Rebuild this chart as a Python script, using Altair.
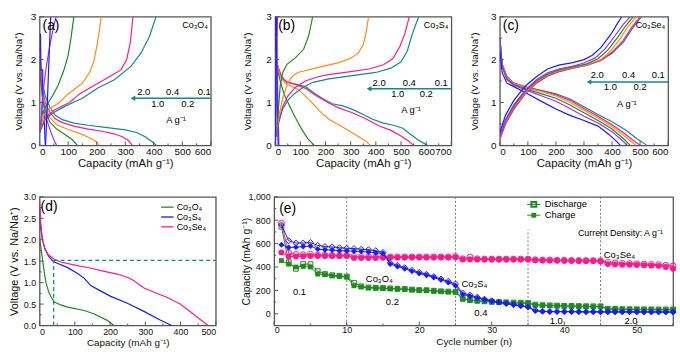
import altair as alt
import pandas as pd

FONT = "Liberation Sans"
FRAME = "#555555"
TEAL = "#14898b"
PINK = "#ff1a8c"
ORANGE = "#ff8c1a"
GREEN = "#1f8a1f"
PURPLE = "#9b30ff"
BLUE = "#1a1aff"
COLORS = {"teal": TEAL, "pink": PINK, "orange": ORANGE, "green": GREEN, "purple": PURPLE, "blue": BLUE}

# ---------------- Panel (a) Co3O4 : discharge / charge profiles (mAh g-1, V)
A_DIS = {
    "teal": ([0, 4, 10, 20, 35, 55, 80, 120, 170, 230, 300, 340, 370, 395, 410],
             [2.3, 1.8, 1.45, 1.15, 0.9, 0.7, 0.6, 0.52, 0.47, 0.42, 0.36, 0.3, 0.2, 0.08, 0]),
    "pink": ([0, 4, 10, 20, 35, 55, 80, 120, 170, 220, 260, 290, 310, 325],
             [2.3, 1.7, 1.3, 1.0, 0.78, 0.62, 0.53, 0.45, 0.38, 0.33, 0.27, 0.2, 0.12, 0]),
    "orange": ([0, 4, 10, 20, 35, 60, 100, 140, 175, 195, 210],
               [2.2, 1.6, 1.2, 0.9, 0.65, 0.48, 0.37, 0.28, 0.18, 0.1, 0]),
    "green": ([0, 4, 10, 20, 35, 60, 90, 115, 132],
              [2.1, 1.5, 1.1, 0.8, 0.55, 0.38, 0.25, 0.13, 0]),
    "purple": ([0, 5, 12, 25, 40, 52, 60],
               [2.2, 1.5, 1.0, 0.6, 0.3, 0.1, 0]),
    "blue": ([3, 5, 11, 11, 8, 11, 16, 18, 20],
             [2.6, 1.76, 1.76, 1.2, 0.8, 0.76, 0.76, 0.3, 0]),
}
A_CHG = {
    "teal": ([0, 20, 45, 80, 117, 150, 204, 262, 320, 355, 385, 408],
             [0.3, 0.6, 0.75, 0.88, 1.0, 1.1, 1.34, 1.53, 1.84, 2.15, 2.54, 3.0]),
    "pink": ([0, 20, 50, 105, 140, 186, 240, 285, 305, 318, 327],
             [0.3, 0.65, 0.82, 1.0, 1.2, 1.38, 1.58, 1.76, 2.0, 2.4, 3.0]),
    "orange": ([0, 15, 40, 70, 100, 130, 150, 175, 190, 203, 210, 216],
               [0.3, 0.7, 0.88, 1.0, 1.2, 1.35, 1.45, 1.7, 1.95, 2.4, 2.7, 3.0]),
    "green": ([0, 10, 25, 45, 65, 85, 100, 110, 120],
              [0.3, 0.75, 0.95, 1.15, 1.4, 1.75, 2.1, 2.5, 3.0]),
    "purple": ([2, 8, 15, 25, 38, 50, 58],
               [0.3, 0.9, 1.4, 1.9, 2.4, 2.8, 3.0]),
    "blue": ([21, 26, 30, 34, 39],
             [0, 0.8, 1.5, 2.2, 3.0]),
}
A_RATE_TEXT = ["2.0", "0.4", "0.1", "1.0", "0.2", "A g⁻¹"]
A_RATE_X = [365, 466, 577, 414, 519, 478]
A_RATE_Y = [1.24, 1.24, 1.24, 0.97, 0.97, 0.59]
A_ARROW = [321, 610, 1.1]

# ---------------- Panel (b) Co3S4
B_DIS = {
    "teal": ([0, 10, 25, 45, 80, 120, 160, 200, 227, 270, 307, 350, 387, 430, 470, 507, 540, 570, 605],
             [2.2, 1.85, 1.6, 1.48, 1.43, 1.37, 1.2, 1.05, 0.97, 0.92, 0.84, 0.72, 0.61, 0.52, 0.47, 0.4, 0.25, 0.12, 0]),
    "pink": ([0, 10, 25, 45, 80, 120, 160, 213, 250, 307, 360, 413, 460, 500, 530, 550],
             [2.2, 1.85, 1.6, 1.48, 1.42, 1.33, 1.17, 0.99, 0.88, 0.76, 0.62, 0.45, 0.35, 0.22, 0.1, 0]),
    "orange": ([0, 8, 20, 40, 93, 147, 180, 213, 273, 327, 360, 378],
               [2.2, 1.9, 1.6, 1.45, 1.3, 0.99, 0.78, 0.61, 0.41, 0.22, 0.1, 0]),
    "green": ([0, 5, 12, 20, 35, 55, 80, 105, 130, 155],
              [2.2, 1.9, 1.7, 1.5, 1.2, 0.95, 0.65, 0.38, 0.15, 0]),
    "purple": ([4, 8, 11, 15], [2.9, 2.0, 1.0, 0]),
    "blue": ([2, 5, 8, 12], [3.0, 2.0, 1.0, 0]),
}
B_CHG = {
    "teal": ([8, 15, 30, 50, 75, 110, 150, 213, 300, 400, 460, 500, 525, 545, 570],
             [0.3, 0.55, 0.85, 1.05, 1.2, 1.35, 1.47, 1.55, 1.62, 1.7, 1.8, 1.95, 2.2, 2.6, 3.0]),
    "pink": ([8, 15, 30, 50, 80, 120, 170, 213, 300, 373, 430, 467, 495, 515, 533],
             [0.35, 0.6, 0.9, 1.15, 1.35, 1.5, 1.6, 1.65, 1.72, 1.78, 1.88, 2.02, 2.3, 2.6, 3.0]),
    "orange": ([5, 15, 30, 50, 70, 90, 160, 253, 300, 330, 350, 362, 371],
               [0.3, 0.7, 1.1, 1.45, 1.62, 1.7, 1.8, 1.93, 2.03, 2.15, 2.35, 2.65, 3.0]),
    "green": ([5, 12, 20, 30, 47, 80, 113, 133, 149],
              [0.2, 0.8, 1.38, 1.7, 1.89, 2.04, 2.24, 2.55, 3.0]),
    "purple": ([2, 5, 7, 9], [0, 1.2, 2.2, 3.0]),
    "blue": ([0, 2, 4, 6], [0, 1.0, 2.0, 3.0]),
}
B_RATE_TEXT = ["2.0", "0.4", "0.1", "1.0", "0.2", "A g⁻¹"]
B_RATE_X = [413, 533, 660, 487, 600, 540]
B_RATE_Y = [1.46, 1.46, 1.46, 1.19, 1.19, 0.82]
B_ARROW = [367, 700, 1.32]

# ---------------- Panel (c) Co3Se4
C_DIS = {
    "teal": ([0, 8, 25, 50, 100, 150, 200, 250, 300, 350, 400, 450, 490, 525],
             [2.5, 1.9, 1.6, 1.45, 1.35, 1.28, 1.2, 1.08, 0.9, 0.72, 0.55, 0.35, 0.15, 0]),
    "pink": ([0, 8, 25, 50, 100, 150, 200, 250, 300, 350, 400, 440, 475, 500],
             [2.5, 1.9, 1.6, 1.45, 1.35, 1.27, 1.18, 1.05, 0.86, 0.68, 0.48, 0.3, 0.12, 0]),
    "orange": ([0, 8, 25, 50, 100, 150, 200, 250, 300, 350, 400, 440, 470, 485],
               [2.5, 1.88, 1.58, 1.44, 1.33, 1.25, 1.15, 1.0, 0.82, 0.64, 0.44, 0.24, 0.08, 0]),
    "green": ([0, 8, 25, 50, 100, 150, 200, 250, 300, 350, 400, 440, 465],
              [2.5, 1.85, 1.55, 1.42, 1.3, 1.2, 1.1, 0.94, 0.76, 0.58, 0.38, 0.16, 0]),
    "purple": ([0, 8, 25, 50, 100, 150, 200, 250, 300, 350, 400, 435, 455],
               [2.5, 1.83, 1.53, 1.4, 1.27, 1.15, 1.03, 0.86, 0.68, 0.52, 0.32, 0.12, 0]),
    "blue": ([0, 8, 25, 50, 100, 150, 200, 250, 300, 350, 390, 415, 430],
             [2.2, 1.7, 1.45, 1.37, 1.2, 1.02, 0.85, 0.7, 0.58, 0.45, 0.25, 0.1, 0]),
}
C_CHG = {
    "teal": ([0, 20, 50, 90, 130, 170, 210, 260, 310, 360, 400, 440, 475, 505],
             [0.15, 0.5, 0.85, 1.2, 1.45, 1.62, 1.72, 1.8, 1.87, 1.98, 2.15, 2.4, 2.75, 3.0]),
    "pink": ([0, 20, 50, 90, 130, 170, 210, 260, 310, 360, 400, 440, 470, 500],
             [0.15, 0.5, 0.85, 1.2, 1.45, 1.62, 1.72, 1.8, 1.87, 1.98, 2.17, 2.45, 2.75, 3.0]),
    "orange": ([0, 20, 50, 90, 130, 170, 210, 260, 310, 360, 395, 430, 460, 488],
               [0.18, 0.55, 0.9, 1.23, 1.48, 1.64, 1.74, 1.81, 1.88, 2.0, 2.2, 2.5, 2.8, 3.0]),
    "green": ([0, 20, 50, 90, 130, 170, 210, 260, 310, 350, 385, 420, 450, 476],
              [0.2, 0.58, 0.92, 1.26, 1.5, 1.66, 1.76, 1.83, 1.9, 2.02, 2.22, 2.52, 2.8, 3.0]),
    "purple": ([0, 20, 50, 90, 130, 170, 210, 260, 300, 340, 375, 410, 440, 465],
               [0.22, 0.6, 0.95, 1.28, 1.53, 1.69, 1.78, 1.85, 1.92, 2.04, 2.25, 2.55, 2.82, 3.0]),
    "blue": ([0, 20, 50, 90, 130, 170, 210, 260, 300, 330, 360, 395, 420, 435],
             [0.3, 0.7, 1.05, 1.38, 1.6, 1.78, 1.87, 1.93, 2.0, 2.1, 2.28, 2.58, 2.85, 3.0]),
}
C_RATE_TEXT = ["2.0", "0.4", "0.1", "1.0", "0.2", "A g⁻¹"]
C_RATE_X = [347, 459, 565, 394, 500, 453]
C_RATE_Y = [1.64, 1.64, 1.64, 1.35, 1.35, 0.97]
C_ARROW = [312, 610, 1.48]

# ---------------- Panel (d) first discharge comparison
D_O4_CAP = [0, 4, 9, 14, 19, 26, 33, 42, 60, 80, 127, 155, 192, 211]
D_O4_V = [2.05, 1.8, 1.5, 1.2, 0.97, 0.78, 0.66, 0.55, 0.48, 0.43, 0.35, 0.27, 0.12, 0]
D_S4_CAP = [0, 3, 8, 15, 25, 38, 50, 80, 110, 127, 145, 170, 202, 249, 296, 342, 375]
D_S4_V = [2.75, 2.3, 2.0, 1.8, 1.62, 1.5, 1.45, 1.35, 1.2, 1.1, 0.93, 0.82, 0.68, 0.52, 0.33, 0.13, 0]
D_SE4_CAP = [0, 3, 8, 15, 25, 40, 60, 100, 150, 174, 220, 250, 267, 295, 330, 361, 399, 436, 478]
D_SE4_V = [2.9, 2.4, 2.0, 1.78, 1.65, 1.55, 1.48, 1.41, 1.33, 1.28, 1.2, 1.12, 1.05, 0.88, 0.76, 0.66, 0.5, 0.27, 0]
D_NAMES = ["Co₃O₄", "Co₃S₄", "Co₃Se₄"]
D_LEG_Y = [2.76, 2.53, 2.3]
D_GUIDE_CAP = 40
D_GUIDE_V = 1.52

# ---------------- Panel (e) rate capability (capacity mAh g-1 per cycle)
CYCLES = list(range(1, 56))
O4_CHG = [455, 425, 400, 405, 400, 340, 335, 325, 320, 315,
          240, 230, 222, 220, 218, 215, 212, 210, 205, 200,
          200, 195, 190, 188, 185, 125, 115, 110, 105, 100,
          98, 96, 94, 92, 90, 75, 72, 70, 68, 66,
          65, 64, 63, 62, 62, 40, 38, 38, 37, 37,
          36, 36, 35, 35, 35]
O4_DIS = [745, 440, 385, 425, 425, 365, 340, 330, 325, 318,
          265, 235, 225, 222, 220, 217, 214, 212, 207, 203,
          202, 197, 193, 190, 188, 130, 118, 112, 107, 103,
          100, 98, 96, 94, 92, 78, 74, 72, 70, 68,
          67, 66, 65, 64, 64, 43, 41, 40, 39, 39,
          38, 38, 37, 37, 37]
S4_CHG = [590, 567, 570, 575, 580, 553, 548, 545, 540, 538,
          535, 532, 528, 522, 515, 425, 405, 385, 365, 345,
          330, 310, 290, 268, 240, 165, 150, 135, 122, 108,
          96, 86, 76, 66, 56, 25, 20, 18, 18, 18,
          17, 17, 16, 16, 16, 15, 15, 15, 15, 15,
          15, 15, 15, 15, 15]
S4_DIS = [760, 625, 605, 605, 610, 585, 575, 572, 565, 560,
          558, 552, 548, 540, 525, 435, 415, 395, 372, 355,
          338, 318, 298, 278, 255, 178, 160, 142, 126, 112,
          100, 90, 80, 70, 60, 30, 22, 20, 20, 19,
          19, 18, 18, 18, 17, 17, 17, 17, 17, 17,
          16, 16, 16, 16, 16]
SE4_CHG = [525, 490, 490, 492, 494, 494, 495, 495, 495, 495,
           478, 478, 478, 478, 480, 482, 482, 482, 482, 482,
           482, 482, 482, 482, 484, 465, 465, 465, 465, 465,
           465, 465, 465, 465, 465, 458, 456, 455, 455, 454,
           453, 452, 452, 451, 450, 425, 422, 420, 420, 418,
           415, 412, 410, 400, 385]
SE4_DIS = [775, 520, 508, 505, 510, 502, 500, 500, 498, 500,
           490, 488, 488, 487, 487, 486, 486, 486, 486, 486,
           486, 486, 486, 486, 490, 470, 485, 470, 468, 468,
           468, 468, 468, 468, 468, 462, 460, 460, 458, 458,
           456, 456, 455, 455, 452, 440, 435, 432, 430, 428,
           425, 422, 420, 415, 410]
E_SWITCH = [10, 25, 35, 45]
E_SWITCH_TOP = [1000, 1000, 720, 1000]
E_TEXT = ["0.1", "0.2", "0.4", "1.0", "2.0", "Co₃O₄", "Co₃S₄", "Co₃Se₄"]
E_TEXT_X = [3.5, 16.3, 28.5, 38.9, 49.2, 14.5, 27.6, 47.6]
E_TEXT_Y = [187, 102, 11, -60, -60, 300, 258, 505]

H = 130


class Frame:
    """Shared scales and axes of one panel (every layer repeats the same axis)."""

    def __init__(self, xsc, ysc, xax, yax):
        self.xsc, self.ysc, self.xax, self.yax = xsc, ysc, xax, yax

    def X(self, field):
        return alt.X(field, scale=self.xsc, axis=self.xax)

    def Y(self, field):
        return alt.Y(field, scale=self.ysc, axis=self.yax)


def line_frame(dis, chg):
    rows = []
    for kind, group in (("d", dis), ("c", chg)):
        for name, (caps, volts) in group.items():
            for i, (c, v) in enumerate(zip(caps, volts)):
                rows.append({"key": kind + name, "col": COLORS[name], "x": c, "y": v, "i": i})
    return pd.DataFrame(rows)


def inward_ticks(fr, xmaj, xmin, ymaj, ymin, h):
    layers = []
    for vals, ln in ((xmaj, 4), (xmin, 2)):
        layers.append(alt.Chart(pd.DataFrame({"x": vals})).mark_rule(color=FRAME, strokeWidth=1)
                      .encode(x=fr.X("x:Q"), y=alt.value(h), y2=alt.value(h - ln)))
    for vals, ln in ((ymaj, 4), (ymin, 2)):
        layers.append(alt.Chart(pd.DataFrame({"y": vals})).mark_rule(color=FRAME, strokeWidth=1)
                      .encode(y=fr.Y("y:Q"), x=alt.value(0), x2=alt.value(ln)))
    return layers


def spacers(left, top, right, bottom):
    out = []
    for px, py in ((left, top), (right, bottom)):
        out.append(alt.Chart(pd.DataFrame({"s": [0]})).mark_point(opacity=0, size=1, strokeWidth=0)
                   .encode(x=alt.value(px), y=alt.value(py)))
    return out


def tag(text, x, y, size, align="left", baseline="top"):
    return alt.Chart(pd.DataFrame({"t": [text]})).mark_text(
        font=FONT, fontSize=size, align=align, baseline=baseline, color="black"
    ).encode(text="t:N", x=alt.value(x), y=alt.value(y))


def data_texts(fr, xs, ys, texts, size, align="center"):
    df = pd.DataFrame({"x": xs, "y": ys, "t": texts})
    return alt.Chart(df).mark_text(font=FONT, fontSize=size, align=align, baseline="middle",
                                   color="black").encode(x=fr.X("x:Q"), y=fr.Y("y:Q"), text="t:N")


def profile_panel(label, compound, dis, chg, xmax, w, yext, arrow, rx, ry, rt, sp):
    fr = Frame(
        alt.Scale(domain=[0, xmax], nice=False, zero=False),
        alt.Scale(domain=[0, 3], nice=False, zero=False),
        alt.Axis(values=list(range(0, xmax + 1, 100)), title="Capacity (mAh g⁻¹)", labelFontSize=10,
                 titleFontSize=11.5, labelPadding=1, minExtent=12, maxExtent=12, titlePadding=0),
        alt.Axis(values=[0, 1, 2, 3], title="Voltage (V vs. Na/Na⁺)", labelFontSize=10, titleFontSize=10,
                 labelPadding=4, minExtent=yext, maxExtent=yext, titlePadding=4))
    lines = alt.Chart(line_frame(dis, chg)).mark_line(strokeWidth=1.2, clip=True).encode(
        x=fr.X("x:Q"), y=fr.Y("y:Q"),
        color=alt.Color("col:N", scale=None), detail="key:N", order="i:Q")
    ticks = inward_ticks(fr, list(range(0, xmax + 1, 100)), list(range(50, xmax, 100)),
                         [0, 1, 2, 3], [0.5, 1.5, 2.5], H)
    arr_line = alt.Chart(pd.DataFrame({"x": [arrow[0] + 8], "x2": [arrow[1]], "y": [arrow[2]]})).mark_rule(
        color=TEAL, strokeWidth=1.5, clip=True).encode(x=fr.X("x:Q"), x2="x2:Q", y=fr.Y("y:Q"))
    arr_head = alt.Chart(pd.DataFrame({"x": [arrow[0] + 6], "y": [arrow[2]]})).mark_point(
        shape="triangle-left", filled=True, size=30, color=TEAL, opacity=1).encode(x=fr.X("x:Q"), y=fr.Y("y:Q"))
    rates = data_texts(fr, rx, ry, rt, 9.5)
    layers = [lines, *ticks, arr_line, arr_head, rates,
              tag(label, 3, 2, 14), tag(compound, w - 3, 8, 9, align="right", baseline="middle"),
              *spacers(*sp)]
    return alt.layer(*layers).properties(width=w, height=H)


pa = profile_panel("(a)", "Co₃O₄", A_DIS, A_CHG, 600, 173, 12, A_ARROW, A_RATE_X, A_RATE_Y, A_RATE_TEXT,
                   (-38, -13, 173 + 12, H + 30))
pb = profile_panel("(b)", "Co₃S₄", B_DIS, B_CHG, 700, 178, 19, B_ARROW, B_RATE_X, B_RATE_Y, B_RATE_TEXT,
                   (-49, -13, 178 + 10, H + 30))
pc = profile_panel("(c)", "Co₃Se₄", C_DIS, C_CHG, 600, 170, 17, C_ARROW, C_RATE_X, C_RATE_Y, C_RATE_TEXT,
                   (-35, -13, 170 + 10, H + 30))

# ---------------- panel d
WD = 178
dfr = Frame(
    alt.Scale(domain=[0, 500], nice=False, zero=False),
    alt.Scale(domain=[0, 3], nice=False, zero=False),
    alt.Axis(values=[0, 100, 200, 300, 400, 500], title="Capacity (mAh g⁻¹)", labelFontSize=9,
             titleFontSize=10, labelPadding=2, minExtent=12, maxExtent=12, titlePadding=0),
    alt.Axis(values=[0, 0.5, 1, 1.5, 2, 2.5, 3], format=".1f", title="Voltage (V vs. Na/Na⁺)",
             labelFontSize=9, titleFontSize=11, labelPadding=4, minExtent=16, maxExtent=16, titlePadding=4))
d_rows = []
for name, caps, volts, col in ((D_NAMES[0], D_O4_CAP, D_O4_V, GREEN), (D_NAMES[1], D_S4_CAP, D_S4_V, BLUE),
                               (D_NAMES[2], D_SE4_CAP, D_SE4_V, PINK)):
    for i, (c, v) in enumerate(zip(caps, volts)):
        d_rows.append({"key": name, "col": col, "x": c, "y": v, "i": i})
d_lines = alt.Chart(pd.DataFrame(d_rows)).mark_line(strokeWidth=1.2, clip=True).encode(
    x=dfr.X("x:Q"), y=dfr.Y("y:Q"), color=alt.Color("col:N", scale=None), detail="key:N", order="i:Q")
d_guides = alt.Chart(pd.DataFrame({"x": [D_GUIDE_CAP, D_GUIDE_CAP], "x2": [500, D_GUIDE_CAP],
                                   "y": [D_GUIDE_V, 0], "y2": [D_GUIDE_V, D_GUIDE_V]})).mark_rule(
    color=TEAL, strokeWidth=1.3, strokeDash=[4, 3]).encode(x=dfr.X("x:Q"), x2="x2:Q", y=dfr.Y("y:Q"), y2="y2:Q")
d_leg_lines = alt.Chart(pd.DataFrame({"x": [345] * 3, "x2": [380] * 3, "y": D_LEG_Y,
                                      "col": [GREEN, BLUE, PINK]})).mark_rule(strokeWidth=1.3).encode(
    x=dfr.X("x:Q"), x2="x2:Q", y=dfr.Y("y:Q"), color=alt.Color("col:N", scale=None))
d_leg_text = data_texts(dfr, [389] * 3, D_LEG_Y, D_NAMES, 9, align="left")
d_ticks = inward_ticks(dfr, [0, 100, 200, 300, 400, 500], [50, 150, 250, 350, 450],
                       [0, 0.5, 1, 1.5, 2, 2.5, 3], [0.25, 0.75, 1.25, 1.75, 2.25, 2.75], H)
pd_ = alt.layer(d_lines, d_guides, d_leg_lines, d_leg_text, *d_ticks, tag("(d)", 1, 3, 14),
                *spacers(-38, -8, WD + 10, H + 35)).properties(width=WD, height=H)

# ---------------- panel e
WE = 403
efr = Frame(
    alt.Scale(domain=[0, 55], nice=False, zero=False),
    alt.Scale(domain=[-100, 1000], nice=False, zero=False),
    alt.Axis(values=[0, 10, 20, 30, 40, 50], title="Cycle number (n)", labelFontSize=9, titleFontSize=10,
             labelPadding=0, minExtent=10, maxExtent=10, titlePadding=1),
    alt.Axis(values=[0, 200, 400, 600, 800, 1000], title="Capacity (mAh g⁻¹)", labelFontSize=9,
             titleFontSize=10.5, labelPadding=4, minExtent=19, maxExtent=19, titlePadding=4))


def e_series(vals, color, shape, filled, size):
    base = alt.Chart(pd.DataFrame({"x": CYCLES, "y": vals})).encode(x=efr.X("x:Q"), y=efr.Y("y:Q"))
    ln = base.mark_line(color=color, strokeWidth=1)
    pts = base.mark_point(shape=shape, filled=filled, color=color, size=size, opacity=1, strokeWidth=1)
    return [ln, pts]


e_vlines = alt.Chart(pd.DataFrame({"x": E_SWITCH, "y2": E_SWITCH_TOP, "y": [-100] * 4})).mark_rule(
    color="#777777", strokeWidth=1, strokeDash=[2, 2]).encode(x=efr.X("x:Q"), y=efr.Y("y:Q"), y2="y2:Q")
e_layers = [e_vlines,
            *e_series(O4_DIS, GREEN, "square", False, 24),
            *e_series(O4_CHG, GREEN, "square", True, 24),
            *e_series(SE4_DIS, PINK, "circle", False, 36),
            *e_series(SE4_CHG, PINK, "circle", True, 36),
            *e_series(S4_DIS, BLUE, "diamond", False, 36),
            *e_series(S4_CHG, BLUE, "diamond", True, 36)]
e_texts = data_texts(efr, E_TEXT_X, E_TEXT_Y, E_TEXT, 9.5)
e_cd = data_texts(efr, [53.6], [692], ["Current Density: A g⁻¹"], 9, align="right")
e_leg_line = alt.Chart(pd.DataFrame({"x": [34.9, 34.9], "x2": [36.7, 36.7], "y": [935, 843]})).mark_rule(
    color=GREEN, strokeWidth=1).encode(x=efr.X("x:Q"), x2="x2:Q", y=efr.Y("y:Q"))
e_leg_open = alt.Chart(pd.DataFrame({"x": [35.8], "y": [935]})).mark_point(
    shape="square", filled=False, color=GREEN, size=24, opacity=1).encode(x=efr.X("x:Q"), y=efr.Y("y:Q"))
e_leg_fill = alt.Chart(pd.DataFrame({"x": [35.8], "y": [843]})).mark_point(
    shape="square", filled=True, color=GREEN, size=24, opacity=1).encode(x=efr.X("x:Q"), y=efr.Y("y:Q"))
e_leg_text = data_texts(efr, [37.3, 37.3], [935, 843], ["Discharge", "Charge"], 9.5, align="left")
e_ticks = inward_ticks(efr, [0, 10, 20, 30, 40, 50], [5, 15, 25, 35, 45, 55],
                       [0, 200, 400, 600, 800, 1000], [-100, 100, 300, 500, 700, 900], H)
pe = alt.layer(*e_layers, e_texts, e_cd, e_leg_line, e_leg_open, e_leg_fill, e_leg_text, *e_ticks,
               tag("(e)", 5, 5, 14), *spacers(-45, -8, WE + 5, H + 35)).properties(width=WE, height=H)

row1 = alt.hconcat(pa, pb, pc, spacing=0)
row2 = alt.hconcat(pd_, pe, spacing=0)
chart = alt.vconcat(row1, row2, spacing=10).properties(padding=0).configure_view(
    stroke=FRAME, strokeWidth=1.3).configure_axis(
    grid=False, domain=False, ticks=False, tickSize=0, labelFont=FONT, titleFont=FONT,
    labelColor="#111111", titleColor="#111111", titleFontWeight="normal")

chart.save("out.html", embed_options={"renderer": "svg", "actions": False})
